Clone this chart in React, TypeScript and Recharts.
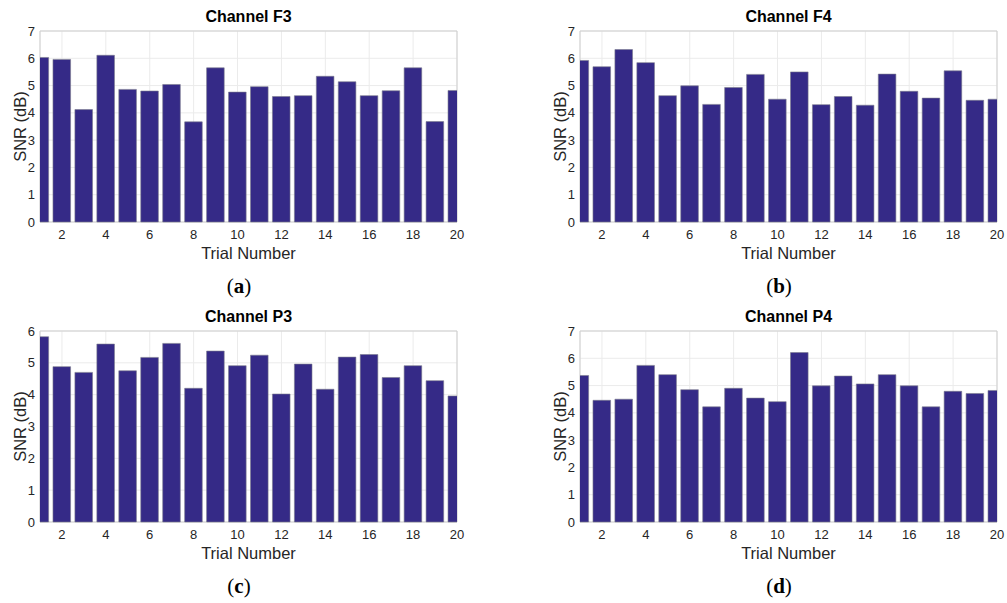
import { BarChart, Bar, XAxis, YAxis, CartesianGrid, ReferenceArea } from 'recharts'

// trial numbers on the x axis
const trials = [1, 2, 3, 4, 5, 6, 7, 8, 9, 10, 11, 12, 13, 14, 15, 16, 17, 18, 19, 20]
const xTicks = [2, 4, 6, 8, 10, 12, 14, 16, 18, 20]
const yTicks7 = [0, 1, 2, 3, 4, 5, 6, 7]
const yTicks6 = [0, 1, 2, 3, 4, 5, 6]

// SNR (dB) per trial
const snrF3 = [6.03, 5.96, 4.12, 6.11, 4.86, 4.8, 5.04, 3.67, 5.65, 4.76, 4.96, 4.6, 4.63, 5.34, 5.14, 4.63, 4.81, 5.65, 3.68, 4.82]
const snrF4 = [5.92, 5.69, 6.32, 5.84, 4.63, 4.99, 4.31, 4.93, 5.41, 4.5, 5.5, 4.3, 4.6, 4.28, 5.42, 4.79, 4.54, 5.54, 4.46, 4.5]
const snrP3 = [5.82, 4.88, 4.7, 5.59, 4.75, 5.17, 5.61, 4.2, 5.37, 4.91, 5.24, 4.02, 4.96, 4.17, 5.18, 5.26, 4.54, 4.91, 4.44, 3.96]
const snrP4 = [5.37, 4.46, 4.5, 5.74, 5.4, 4.85, 4.22, 4.9, 4.54, 4.41, 6.21, 4.99, 5.35, 5.06, 5.4, 4.99, 4.22, 4.79, 4.71, 4.82]

const BAR = '#352A87'
const TEXT = '#262626'
const FONT = '"Liberation Sans", Arial, sans-serif'

interface PanelProps {
  title: string
  values: number[]
  yTicks: number[]
  left: number
  top: number
  caption: string
}

const Panel = ({ title, values, yTicks, left, top, caption }: PanelProps) => {
  const data = trials.map((t, i) => ({ trial: t, snr: values[i] }))
  const yMax = yTicks[yTicks.length - 1]
  return (
    <div style={{ position: 'absolute', left, top, width: 470, height: 300 }}>
      <div
        style={{
          position: 'absolute',
          left: 40,
          width: 417,
          top: 7,
          textAlign: 'center',
          fontFamily: FONT,
          fontWeight: 'bold',
          fontSize: 16,
          color: '#000',
          lineHeight: '20px',
        }}
      >
        {title}
      </div>
      <BarChart
        width={470}
        height={265}
        data={data}
        margin={{ top: 31, right: 13, left: 0, bottom: 0 }}
        style={{ fontFamily: FONT }}
      >
        <CartesianGrid stroke="#ebebeb" />
        <XAxis
          type="number"
          dataKey="trial"
          domain={[1, 20]}
          ticks={xTicks}
          allowDataOverflow
          tickLine={false}
          axisLine={false}
          height={43}
          tick={{ fill: TEXT, fontSize: 13 }}
          label={{ value: 'Trial Number', position: 'insideBottom', offset: 6, fill: TEXT, fontSize: 16.5 }}
        />
        <YAxis
          type="number"
          domain={[0, yMax]}
          ticks={yTicks}
          tickLine={false}
          axisLine={false}
          tickSize={3}
          width={40}
          tick={{ fill: TEXT, fontSize: 13 }}
          label={{ value: 'SNR (dB)', angle: -90, position: 'center', fill: TEXT, fontSize: 16.5 }}
        />
        <Bar
          dataKey="snr"
          fill={BAR}
          stroke="#7a7a8c"
          strokeWidth={0.6}
          barSize={17.6}
          isAnimationActive={false}
        />
        <ReferenceArea x1={1} x2={20} y1={0} y2={yMax} fill="none" stroke="#cfcfcf" />
      </BarChart>
      <div
        style={{
          position: 'absolute',
          left: 0,
          width: 478,
          top: 273,
          textAlign: 'center',
          fontFamily: '"Liberation Serif", "DejaVu Serif", serif',
          fontSize: 21,
          color: '#000',
          lineHeight: '26px',
        }}
      >
        (<b>{caption}</b>)
      </div>
    </div>
  )
}

export default function App() {
  return (
    <div style={{ position: 'absolute', left: 0, top: 0, width: 1007, height: 603, background: '#fff' }}>
      <Panel title="Channel F3" values={snrF3} yTicks={yTicks7} left={0} top={0} caption="a" />
      <Panel title="Channel F4" values={snrF4} yTicks={yTicks7} left={540} top={0} caption="b" />
      <Panel title="Channel P3" values={snrP3} yTicks={yTicks6} left={0} top={300} caption="c" />
      <Panel title="Channel P4" values={snrP4} yTicks={yTicks7} left={540} top={300} caption="d" />
    </div>
  )
}
